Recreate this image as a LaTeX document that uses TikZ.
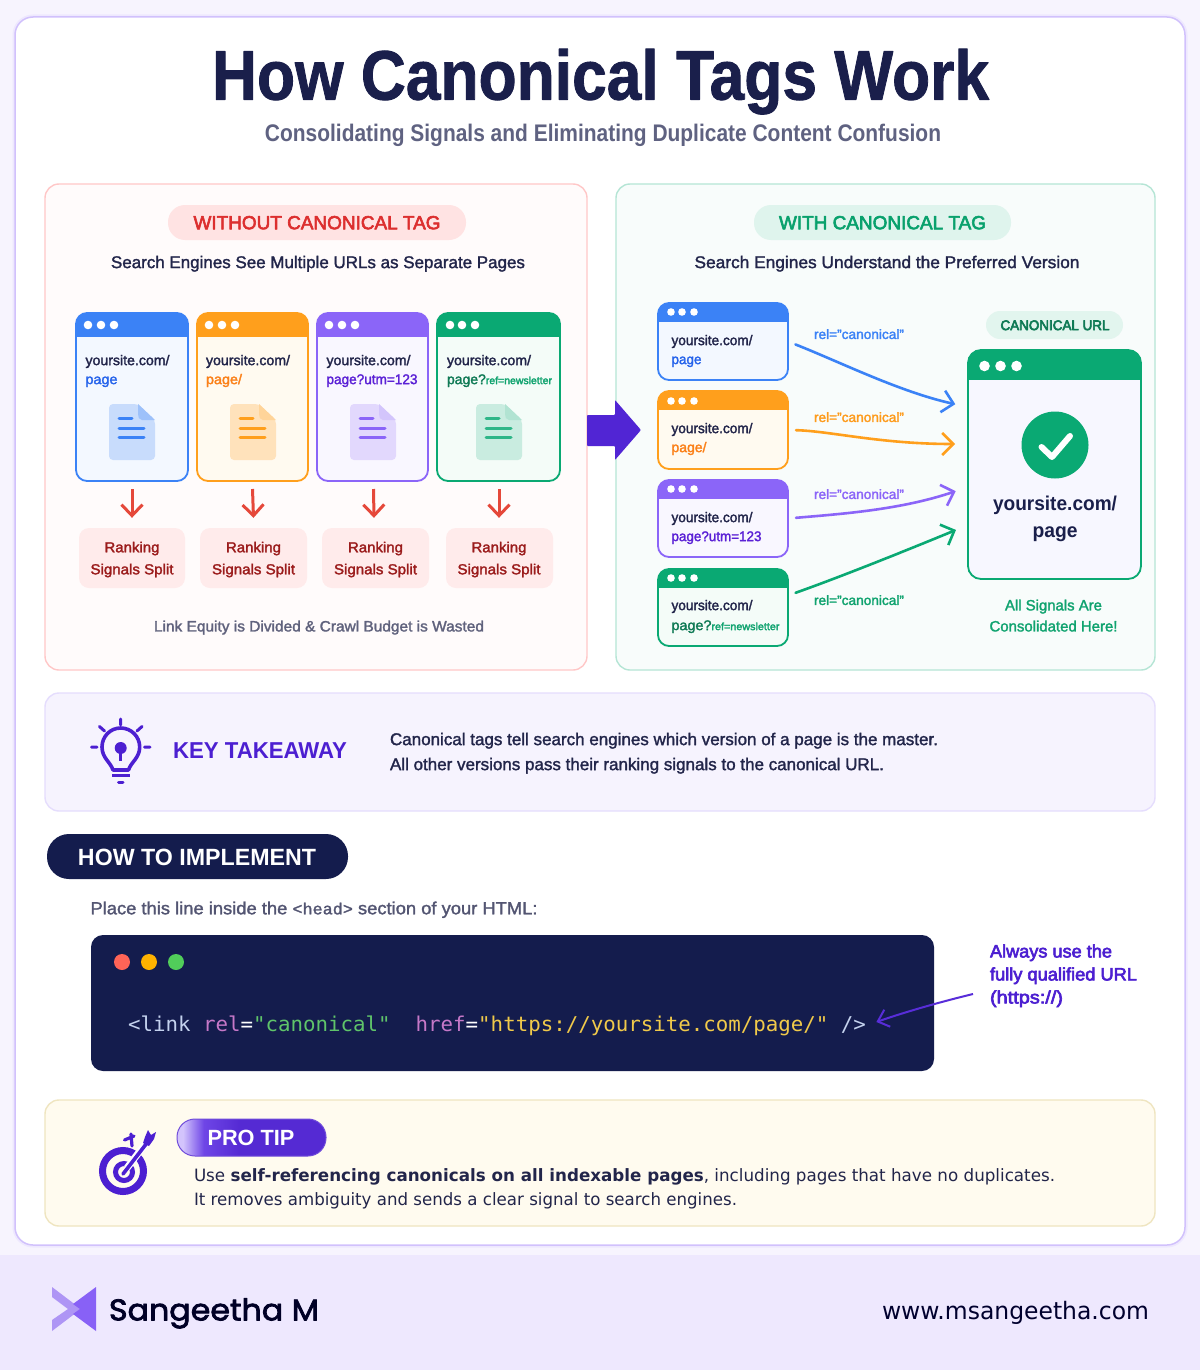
\documentclass[tikz,border=0pt]{standalone}
\usepackage{fontspec}
\usepackage{graphicx}
\usetikzlibrary{arrows.meta}
\setmainfont{Liberation Sans}
\setmonofont{DejaVu Sans Mono}
\newcommand{\medf}{\special{pdf:code 2 Tr 0.28 w 1 j}}
\newcommand{\semif}{\special{pdf:code 2 Tr 0.6 w 1 j}}
\newcommand{\heavyf}{\bfseries\special{pdf:code 2 Tr 0.9 w 1 j}}
\newfontfamily\dejav{DejaVu Sans}
\newfontfamily\poppf{Poppins}
\newcommand{\popp}{\poppf\special{pdf:code 2 Tr 0.75 w 1 j}}
\newfontfamily\libmono{Liberation Mono}
\definecolor{blueC}{HTML}{3B82F6}
\definecolor{orangeC}{HTML}{FF9F1C}
\definecolor{purpleC}{HTML}{8B65F8}
\definecolor{greenC}{HTML}{0AA973}
\definecolor{blueT}{HTML}{F3F8FF}
\definecolor{orangeT}{HTML}{FFFAF0}
\definecolor{purpleT}{HTML}{F9F7FF}
\definecolor{greenT}{HTML}{F4FCF8}
\definecolor{blueD}{HTML}{2563EB}
\definecolor{orangeD}{HTML}{F97316}
\definecolor{purpleD}{HTML}{5B21D6}
\definecolor{greenD}{HTML}{0F7A55}
\definecolor{greenL}{HTML}{10A36F}
\definecolor{navy}{HTML}{1A1F4B}
\definecolor{ink}{HTML}{22254A}
\definecolor{violet}{HTML}{4C1FD1}
\definecolor{redA}{HTML}{E5483A}
\definecolor{redD}{HTML}{9B1C1C}
\definecolor{redH}{HTML}{DC2F2F}
\definecolor{codeBg}{HTML}{141C4D}
\definecolor{cPink}{HTML}{C678C8}
\definecolor{cGreen}{HTML}{5FC46A}
\definecolor{cYellow}{HTML}{F0C94A}
\definecolor{cLink}{HTML}{C4D2EE}
\definecolor{tipF}{HTML}{FFFBEF}
\definecolor{tipB}{HTML}{EFE5C0}
\pgfdeclarehorizontalshading{pillshade}{100bp}{color(0bp)=(white!62!purpleC); color(27bp)=(white!62!purpleC); color(34bp)=(purpleC!55!violet); color(46bp)=(violet!95!white); color(100bp)=(violet!95!white)}
\newcommand{\fw}[2]{\resizebox{#1pt}{\height}{#2}}
% name x y anchor size colour width text
\newcommand{\T}[8]{\node[txt,anchor=#4,text=#6,font=\fontsize{#5}{#5}\selectfont,yshift={(2.15-0.33*#5)*1pt}] (#1) at (#2,#3) {\fw{#7}{#8}};}
% name x1 y1 x2 y2 headerbottom colour tint radius
\newcommand{\win}[9]{%
  \node[rectangle,rounded corners=#9pt,fill=#8,inner sep=0pt,outer sep=0pt,minimum width={(#4-#2)*1pt},minimum height={(#5-#3)*1pt}] (#1) at ({(#2+#4)/2},{(#3+#5)/2}) {};
  \begin{scope}\clip[rounded corners=#9pt] (#2,#3) rectangle (#4,#5); \fill[#7] (#2,#3) rectangle (#4,#6);\end{scope}
  \draw[#7,line width=1.8pt,rounded corners=#9pt] (#2,#3) rectangle (#4,#5);
}
\newcommand{\wdots}[5]{\fill[white] (#1,#4) circle[radius=#5pt] (#2,#4) circle[radius=#5pt] (#3,#4) circle[radius=#5pt];}
\newcommand{\docicon}[5]{%
  \fill[#3,rounded corners=4pt] (#1,#2) -- ({#1+29},#2) -- ({#1+46},{#2+16}) -- ({#1+46},{#2+56}) -- (#1,{#2+56}) -- cycle;
  \fill[#4] ({#1+29},#2) -- ({#1+46},{#2+16}) -- ({#1+33},{#2+16}) .. controls ({#1+30},{#2+16}) and ({#1+29},{#2+13}) .. ({#1+29},{#2+10}) -- cycle;
  \draw[#5,line width=3pt,line cap=round] ({#1+10},{#2+14}) -- ({#1+23},{#2+14}) ({#1+10},{#2+24}) -- ({#1+35},{#2+24}) ({#1+10},{#2+33}) -- ({#1+35},{#2+33});
}
\tikzset{
  x=1pt,y=-1pt,
  txt/.style={inner sep=0pt,outer sep=0pt},
  panel/.style={rounded corners=14pt,line width=1.4pt},
  barb/.style={-{Straight Barb[length=11pt,width=22pt,line width=2.6pt]},line width=2.6pt,line cap=round},
  redarrow/.style={-{Straight Barb[length=11pt,width=21pt,line width=3pt]},line width=3pt,redA},
  redpill/.style={rounded corners=10pt,fill=red!8!white,inner sep=0pt},
  headpill/.style={rounded corners=17pt,inner sep=0pt,minimum height=35pt},
}
\begin{document}
\begin{tikzpicture}
\useasboundingbox (0,0) rectangle (1200,1370);
\fill[white!93!purpleC] (0,0) rectangle (1200,1370);
\fill[white!85!purpleC] (0,1255) rectangle (1200,1370);
% card
\draw[white!85!purpleC,line width=5pt,rounded corners=18pt] (15,17) rectangle (1185,1245);
\draw[white!60!purpleC,fill=white,line width=1.5pt,rounded corners=18pt] (15,17) rectangle (1185,1245);
% title
\T{title}{600.5}{76}{mid}{70}{navy}{777}{\heavyf How Canonical Tags Work}
\T{subtitle}{603}{133}{mid}{24}{navy!70!white}{676}{\bfseries Consolidating Signals and Eliminating Duplicate Content Confusion}
% panels
\draw[panel,draw=red!22!white,fill=red!1.5!white] (45,184) rectangle (587,670);
\draw[panel,draw=greenC!30!white,fill=greenC!3!white] (616,184) rectangle (1155,670);
% heading pills
\node[headpill,fill=red!11!white,minimum width=298pt] (hl) at (317,222.5) {};
\T{hlt}{317}{222.5}{mid}{19}{redH}{247}{\semif WITHOUT CANONICAL TAG}
\node[headpill,fill=greenC!13!white,minimum width=257pt] (hr) at (882.5,222.5) {};
\T{hrt}{882.5}{222.5}{mid}{19}{greenC!95!black}{207}{\semif WITH CANONICAL TAG}
\T{sl}{318}{262}{mid}{17}{ink}{414}{\medf Search Engines See Multiple URLs as Separate Pages}
\T{sr}{887}{262}{mid}{17}{ink}{385}{\medf Search Engines Understand the Preferred Version}
% left windows
\win{w1}{76}{313}{188}{481}{337}{blueC}{blueT}{11}
\win{w2}{197}{313}{308}{481}{337}{orangeC}{orangeT}{11}
\win{w3}{317}{313}{428}{481}{337}{purpleC}{purpleT}{11}
\win{w4}{437}{313}{560}{481}{337}{greenC}{greenT}{11}
\wdots{88}{101}{114}{325}{4.3}
\wdots{209}{222}{235}{325}{4.3}
\wdots{329}{342}{355}{325}{4.3}
\wdots{450}{462}{475}{325}{4.3}
\T{w1a}{85.5}{360}{mid west}{14}{ink}{84}{\medf yoursite.com/}
\T{w1b}{85.5}{379}{mid west}{14}{blueD}{32}{\medf page}
\T{w2a}{206}{360}{mid west}{14}{ink}{84}{\medf yoursite.com/}
\T{w2b}{206}{379}{mid west}{14}{orangeD!70!orangeC}{36}{\medf page/}
\T{w3a}{326.5}{360}{mid west}{14}{ink}{84}{\medf yoursite.com/}
\T{w3b}{326.5}{379}{mid west}{14}{purpleD}{91}{\medf page?utm=123}
\T{w4a}{447}{360}{mid west}{14}{ink}{84}{\medf yoursite.com/}
\T{w4b}{447}{379}{mid west}{14}{greenD}{105}{\medf page?{\fontsize{10.5}{10.5}\selectfont\textcolor{greenL}{ref=newsletter}}}
\docicon{109}{404}{blueC!28!white}{blueC!50!white}{blueC}
\docicon{230}{404}{orangeC!30!white}{orangeC!45!white}{orangeC}
\docicon{350}{404}{purpleC!25!white}{purpleC!38!white}{purpleC}
\docicon{476}{404}{greenC!22!white}{greenC!32!white}{greenC!85!white}
% red pills
\node[redpill,minimum width=106pt,minimum height=60pt] (p1) at (132,558) {};
\node[redpill,minimum width=107pt,minimum height=60pt] (p2) at (253.5,558) {};
\node[redpill,minimum width=107pt,minimum height=60pt] (p3) at (375.5,558) {};
\node[redpill,minimum width=107pt,minimum height=60pt] (p4) at (499.5,558) {};
\foreach \n/\c in {1/132,2/253.5,3/375.5,4/499}{
  \T{r\n a}{\c}{547}{mid}{14.5}{redD}{55}{\medf Ranking}
  \T{r\n b}{\c}{569}{mid}{14.5}{redD}{83}{\medf Signals Split}
}
\draw[redarrow] ([yshift=-8pt]w1.south) -- ([yshift=10pt]p1.north);
\draw[redarrow] ([yshift=-8pt]w2.south) -- ([yshift=10pt]p2.north);
\draw[redarrow] ([yshift=-8pt,xshift=1pt]w3.south) -- ([yshift=10pt,xshift=-1.5pt]p3.north);
\draw[redarrow] ([yshift=-8pt,xshift=0.5pt]w4.south) -- ([yshift=10pt,xshift=-0.5pt]p4.north);
\T{lf}{319}{626}{mid}{15}{ink!72!white}{330}{\medf Link Equity is Divided \& Crawl Budget is Wasted}
% big arrow
\fill[violet!92!purpleC,rounded corners=0.8pt] (587,415) -- (615,415) -- (615,400) -- (641,430) -- (615,460) -- (615,446) -- (587,446) -- cycle;
% right windows
\win{r1}{658}{303}{788}{380}{322}{blueC}{blueT}{11}
\win{r2}{658}{391}{788}{469}{410}{orangeC}{orangeT}{11}
\win{r3}{658}{480}{788}{557}{499}{purpleC}{purpleT}{11}
\win{r4}{658}{569}{788}{646}{588}{greenC}{greenT}{11}
\wdots{671}{682}{694}{312}{3.8}
\wdots{671}{682}{694}{401}{3.8}
\wdots{671}{682}{694}{489}{3.8}
\wdots{671}{682}{694}{578}{3.8}
\T{r1x}{671.5}{340}{mid west}{14}{ink}{81}{\medf yoursite.com/}
\T{r1y}{671.5}{359}{mid west}{14}{blueD}{30}{\medf page}
\T{r2x}{671.5}{428}{mid west}{14}{ink}{81}{\medf yoursite.com/}
\T{r2y}{671.5}{447}{mid west}{14}{orangeD!70!orangeC}{35}{\medf page/}
\T{r3x}{671.5}{517}{mid west}{14}{ink}{81}{\medf yoursite.com/}
\T{r3y}{671.5}{536}{mid west}{14}{purpleD}{90}{\medf page?utm=123}
\T{r4x}{671.5}{605}{mid west}{14}{ink}{81}{\medf yoursite.com/}
\T{r4y}{671.5}{625}{mid west}{14}{greenD}{108}{\medf page?{\fontsize{10.5}{10.5}\selectfont\textcolor{greenL}{ref=newsletter}}}
% canonical
\node[rounded corners=14pt,fill=greenC!12!white,inner sep=0pt,minimum width=137pt,minimum height=28pt] (cpill) at (1054.5,325) {};
\T{cpt}{1055}{325}{mid}{14}{greenD}{109}{\semif CANONICAL URL}
\win{canon}{968}{350}{1141}{579}{380}{greenC}{blue!3!white}{13}
\wdots{984.5}{1000.5}{1016.5}{366}{5.3}
\fill[greenC] (1055,445) circle[radius=33.5pt];
\draw[white,line width=6pt,line cap=round,line join=round] (1041.5,447) -- (1052,457) -- (1070,436);
\T{cx}{1055}{503}{mid}{20}{navy}{124}{\bfseries yoursite.com/}
\T{cy}{1055}{530}{mid}{20}{navy}{45}{\bfseries page}
\T{ca}{1053.5}{605}{mid}{15}{greenL}{97}{\medf All Signals Are}
\T{cb}{1053.5}{626}{mid}{15}{greenL}{128}{\medf Consolidated Here!}
% connectors
\draw[barb,blueC,shorten <=8pt,shorten >=13pt] (r1.east) .. controls (840,362) and (900,392) .. ([yshift=57.5pt]canon.west);
\draw[barb,orangeC,shorten <=8pt,shorten >=13pt] (r2.east) .. controls (830,431) and (880,444) .. ([yshift=20.5pt]canon.west);
\draw[barb,purpleC,shorten <=8pt,shorten >=13pt] (r3.east) .. controls (840,514) and (900,510) .. ([yshift=-22.5pt]canon.west);
\draw[barb,greenC,shorten <=8pt,shorten >=13pt] ([yshift=12pt]r4.east) .. controls (840,577) and (900,553) .. ([yshift=-60.5pt]canon.west);
\T{la}{859}{334}{mid}{13.5}{blueC}{90}{\medf rel="canonical"}
\T{lb}{859}{417}{mid}{13.5}{orangeC!90!orangeD}{90}{\medf rel="canonical"}
\T{lc}{859}{494}{mid}{13.5}{purpleC}{90}{\medf rel="canonical"}
\T{ld}{859}{600}{mid}{13.5}{greenL}{90}{\medf rel="canonical"}
% key takeaway
\draw[panel,draw=purpleC!22!white,fill=purpleC!8!white] (45,693) rectangle (1155,811);
\draw[violet,line width=3.6pt,line join=round] (102,747) .. controls (102,736.5) and (110.2,728) .. (120.7,728) .. controls (131.2,728) and (139.7,736.5) .. (139.7,747) .. controls (139.7,758) and (131,762) .. (128.5,770) -- (113,770) .. controls (110.5,762) and (102,758) .. (102,747) -- cycle;
\fill[violet] (120.7,748) circle[radius=6pt];
\draw[violet,line width=3pt] (120.7,750) -- (120.7,761);
\draw[violet,line width=3pt,line cap=round] (120.7,719) -- (120.7,725) (99.5,726.5) -- (104.5,731) (142,726.5) -- (137,731) (91.5,747) -- (97,747) (144.5,747) -- (150,747);
\draw[violet,line width=3pt] (112,775.5) -- (130,775.5);
\draw[violet,line width=3pt,line cap=round] (118.5,782) -- (123,782);
\T{kt}{173}{750}{mid west}{23}{violet}{174}{\bfseries KEY TAKEAWAY}
\T{k1}{390}{739}{mid west}{17}{ink}{548}{\medf Canonical tags tell search engines which version of a page is the master.}
\T{k2}{390}{764}{mid west}{17}{ink}{494}{\medf All other versions pass their ranking signals to the canonical URL.}
% how to implement
\node[rounded corners=22pt,fill=codeBg,inner sep=0pt,minimum width=301pt,minimum height=45pt] (hp) at (197.5,856.5) {};
\T{ht}{197}{857}{mid}{23.5}{white}{238}{\bfseries HOW TO IMPLEMENT}
\T{pl}{90.5}{908}{mid west}{17.5}{ink!78!white}{447}{\medf Place this line inside the {\libmono\fontsize{16}{16}\selectfont <head>} section of your HTML:}
% code
\fill[codeBg,rounded corners=12pt] (91,935) rectangle (934,1071);
\fill[red!62!white!90!orange] (122,962) circle[radius=8pt];
\fill[orange!60!yellow] (149,962) circle[radius=8pt];
\fill[cGreen!85!green] (176,962) circle[radius=8pt];
\T{code}{128}{1024}{mid west}{20.4}{cLink}{738}{\ttfamily <link\ \textcolor{cPink}{rel}\textcolor{white}{=}\textcolor{cGreen}{"canonical"}\ \ \textcolor{cPink}{href}\textcolor{white}{=}\textcolor{cYellow}{"https://yoursite.com/page/"}\ />}
\T{n1}{990}{951}{mid west}{18}{violet}{122}{\semif Always use the}
\T{n2}{990}{974}{mid west}{18}{violet}{147}{\semif fully qualified URL}
\T{n3}{990}{997}{mid west}{18}{violet}{73}{\semif (https://)}
\coordinate (nstart) at (973,994);
\draw[-{Straight Barb[length=10pt,width=18pt,line width=2pt]},line width=2pt,violet!80!purpleC,shorten >=11pt] (nstart) .. controls (940,1002) and (905,1012) .. (code.east);
% pro tip
\draw[panel,draw=tipB,fill=tipF] (45,1100) rectangle (1155,1226);
\node[rounded corners=18pt,shading=pillshade,draw=violet!80!white,line width=1pt,inner sep=0pt,minimum width=149pt,minimum height=37pt] (pp) at (251.5,1137.5) {};
\T{ppt}{251}{1138}{mid}{22}{white}{87}{\bfseries PRO TIP}
\draw[violet,line width=7pt] (123,1171) circle[radius=20.5pt];
\draw[violet,line width=5pt] (124,1172) circle[radius=8.5pt];
\draw[white,line width=7pt] (127,1168) -- (146,1143);
\draw[violet,line width=3.6pt,line cap=round] (123,1174) -- (150,1139);
\fill[violet] (145,1137) -- (148,1130) -- (151,1135) -- (156,1132) -- (154,1139) -- (149,1146) -- (143,1143) -- cycle;
\draw[violet,line width=3.2pt,line cap=round] (124.5,1140) -- (134,1136) (131,1134) -- (132,1146);
\T{t1}{194}{1175}{mid west}{17}{ink}{861}{\dejav Use \bfseries self-referencing canonicals on all indexable pages\mdseries, including pages that have no duplicates.}
\T{t2}{194}{1199}{mid west}{17}{ink}{543}{\dejav It removes ambiguity and sends a clear signal to search engines.}
% footer
\fill[purpleC!55!white!85!violet] (52,1287) -- (81,1309) -- (52,1331) -- (52,1320) -- (68,1309) -- (52,1297) -- cycle;
\fill[purpleC!95!violet] (96,1287) -- (96,1331) -- (73,1314) -- (80,1309) -- (73,1304) -- cycle;
\T{sm}{109}{1310}{mid west}{30}{black!85!blue}{210}{\popp Sangeetha M}
\T{ws}{1149}{1311}{mid east}{24}{black!82!blue}{267}{\dejav www.msangeetha.com}
\end{tikzpicture}
\end{document}
